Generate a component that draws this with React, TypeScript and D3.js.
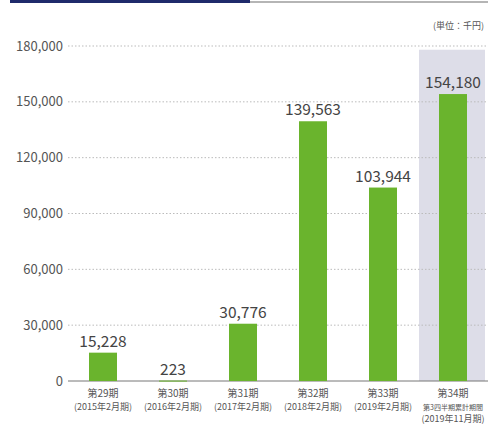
import React from 'react';
import * as d3 from 'd3';

const WIDTH = 488;
const HEIGHT = 429;
const MARGIN = { top: 46, right: 0, bottom: 48, left: 68 };

const periods = ['第29期', '第30期', '第31期', '第32期', '第33期', '第34期'];
const subLabels = [
  ['(2015年2月期)'],
  ['(2016年2月期)'],
  ['(2017年2月期)'],
  ['(2018年2月期)'],
  ['(2019年2月期)'],
  ['第3四半期累計期間', '(2019年11月期)'],
];
const values = [15228, 223, 30776, 139563, 103944, 154180];
const yTicks = [0, 30000, 60000, 90000, 120000, 150000, 180000];
const highlighted = '第34期';

const FONT = '"Noto Sans CJK JP", "Noto Sans", sans-serif';

export default function App() {
  const plotW = WIDTH - MARGIN.left - MARGIN.right;
  const plotH = HEIGHT - MARGIN.top - MARGIN.bottom;

  const x = d3.scaleBand().domain(periods).range([0, plotW]).paddingInner(0).paddingOuter(0);
  const y = d3.scaleLinear().domain([0, 180000]).range([plotH, 0]);
  const fmt = d3.format(',');
  const barW = 28;

  return (
    <svg
      width={WIDTH}
      height={HEIGHT}
      style={{ position: 'absolute', left: 0, top: 0, background: '#fff' }}
      fontFamily={FONT}
    >
      {/* header rule */}
      <rect x={10} y={0} width={240} height={3} fill="#1f2a6b" />
      <rect x={250} y={1} width={238} height={2} fill="#b5b5b5" />
      <text x={484} y={29} textAnchor="end" fontSize={9} fill="#555">
        (単位：千円)
      </text>

      <g transform={`translate(${MARGIN.left},${MARGIN.top})`}>
        {/* highlight band */}
        <rect
          x={(x(highlighted) ?? 0) + 1}
          y={y(178000)}
          width={x.bandwidth() - 4}
          height={plotH - y(178000)}
          fill="#dddde8"
        />

        {/* grid + y labels */}
        {yTicks.map((t) => (
          <g key={t} transform={`translate(0,${y(t)})`}>
            {t > 0 ? (
              <line x1={0} x2={plotW} stroke="#bbb" strokeWidth={1} strokeDasharray="1.5,2" />
            ) : (
              <line x1={0} x2={plotW} stroke="#777" strokeWidth={1} />
            )}
            <text x={-5} dy="0.35em" textAnchor="end" fontSize={13} fill="#555">
              {fmt(t)}
            </text>
          </g>
        ))}

        {/* bars */}
        {periods.map((p, i) => {
          const cx = (x(p) ?? 0) + x.bandwidth() / 2;
          const top = y(values[i]);
          return (
            <g key={p}>
              <rect
                x={cx - barW / 2}
                y={top}
                width={barW}
                height={Math.max(plotH - top, 1)}
                fill="#6ab42d"
              />
              <text x={cx} y={top - 6} textAnchor="middle" fontSize={15.5} fill="#444">
                {fmt(values[i])}
              </text>
              <text x={cx} y={plotH + 16} textAnchor="middle" fontSize={10} fill="#555">
                {p}
              </text>
              {subLabels[i].map((s, j) => (
                <text
                  key={s}
                  x={cx}
                  y={plotH + 29 + j * 12}
                  textAnchor="middle"
                  fontSize={s.startsWith('第') ? 7 : 9}
                  fill="#555"
                >
                  {s}
                </text>
              ))}
            </g>
          );
        })}
      </g>
    </svg>
  );
}
